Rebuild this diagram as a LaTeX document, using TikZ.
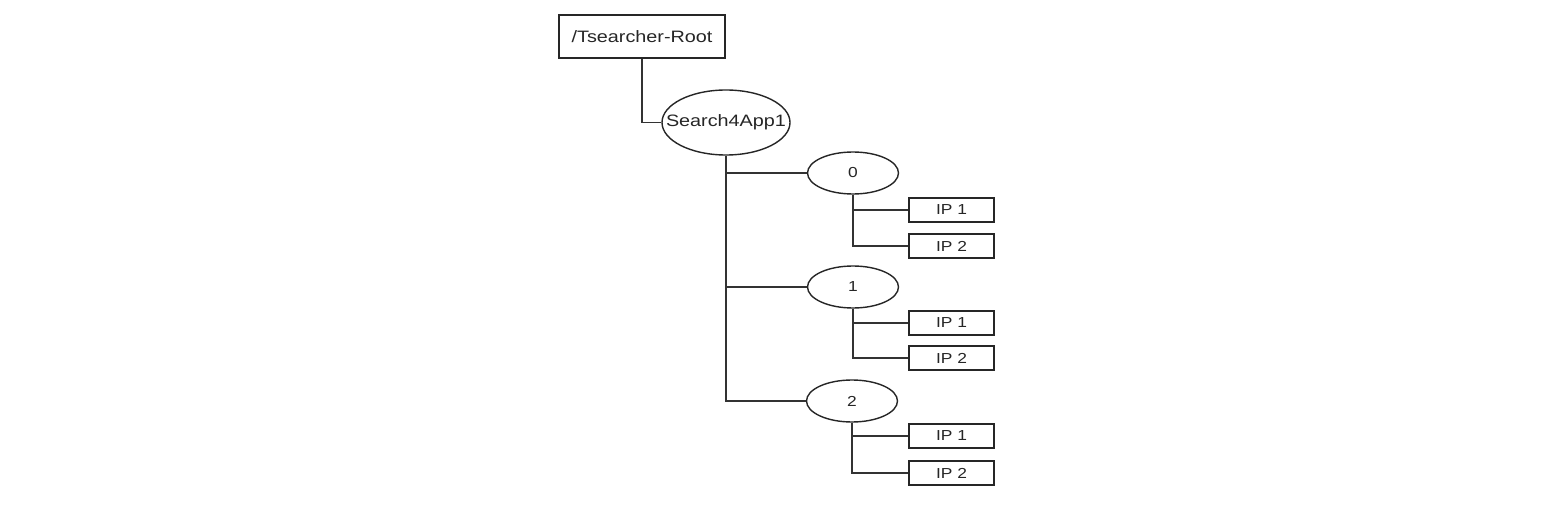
\documentclass[tikz,border=0pt]{standalone}
\usepackage{fontspec}
\newfontfamily\lblfont[FakeStretch=1.2]{Liberation Sans}
\usetikzlibrary{shapes.geometric}
\tikzset{
  boxnode/.style={draw=black!85, line width=1.6pt, rectangle, inner sep=0pt},
  ovalnode/.style={draw=black!85, line width=1.4pt, ellipse, inner sep=0pt},
  link/.style={draw=black!80, line width=1.3pt},
  bigtext/.style={font=\lblfont\fontsize{16.5}{18}\selectfont, text=black!85},
  smalltext/.style={font=\lblfont\fontsize{14.5}{16}\selectfont, text=black!85},
  ipbox/.style={boxnode, smalltext, minimum width=85pt, minimum height=24pt},
  numoval/.style={ovalnode, smalltext, minimum width=91pt, minimum height=42pt}
}
\begin{document}
\begin{tikzpicture}[x=1pt,y=-1pt]
\useasboundingbox (0,0) rectangle (1551,508);
\fill[white] (0,0) rectangle (1551,508);

\node[boxnode, bigtext, minimum width=166pt, minimum height=43pt] (root) at (642,36.5) {/Tsearcher-Root};
\node[ovalnode, bigtext, minimum width=128pt, minimum height=65pt] (s4a) at (726,122.5) {\makebox[0pt][c]{Search4App1}};

\node[numoval] (e0) at (853,173) {0};
\node[numoval] (e1) at (853,287) {1};
\node[numoval] (e2) at (852,401) {2};

\node[ipbox] (ip01) at (951.5,210) {IP 1};
\node[ipbox] (ip02) at (951.5,246) {IP 2};
\node[ipbox] (ip11) at (951.5,323) {IP 1};
\node[ipbox] (ip12) at (951.5,358) {IP 2};
\node[ipbox] (ip21) at (951.5,436) {IP 1};
\node[ipbox] (ip22) at (951.5,473) {IP 2};

\draw[link] (root.south) |- (s4a.west);
\draw[link] (s4a.south) |- (e2.west);
\draw[link] (s4a.south |- e0.west) -- (e0.west);
\draw[link] (s4a.south |- e1.west) -- (e1.west);

\draw[link] (e0.south) |- (ip01.west);
\draw[link] (e0.south) |- (ip02.west);
\draw[link] (e1.south) |- (ip11.west);
\draw[link] (e1.south) |- (ip12.west);
\draw[link] (e2.south) |- (ip21.west);
\draw[link] (e2.south) |- (ip22.west);
\end{tikzpicture}
\end{document}
